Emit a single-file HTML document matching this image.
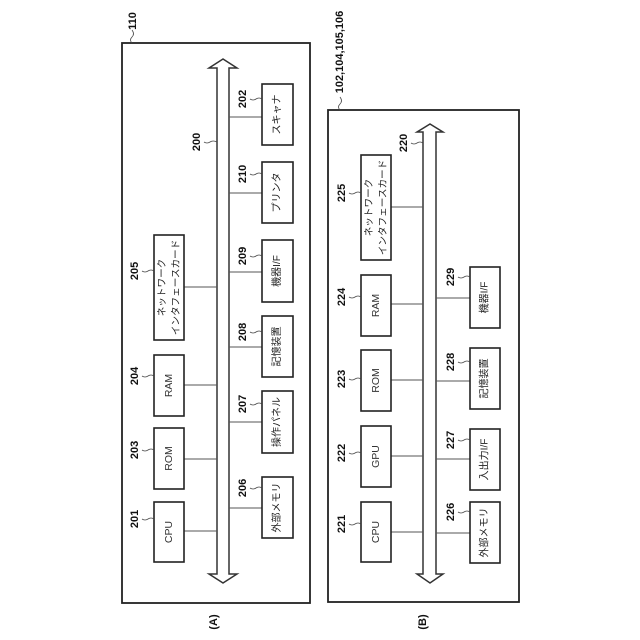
<!DOCTYPE html>
<html><head><meta charset="utf-8"><style>
html,body{margin:0;padding:0;background:#fff}
svg{display:block}
text{font-family:"Liberation Sans","Noto Sans CJK JP",sans-serif;fill:#222;text-anchor:middle;dominant-baseline:central}
.n{font-size:11px;font-weight:bold;fill:#111}
.t{font-size:10.5px;fill:#333}
.j{font-size:10px;fill:#222}
.k{font-size:9.6px;fill:#222}
.b{fill:#fff;stroke:#222;stroke-width:1.6}
.o{fill:#fff;stroke:#222;stroke-width:1.8}
.c{stroke:#555;stroke-width:1.1;fill:none}
.s{stroke:#444;stroke-width:.8;fill:none}
.h{fill:#fff;stroke:#333;stroke-width:1.5}
</style></head><body>
<svg width="640" height="640" viewBox="0 0 640 640" xmlns="http://www.w3.org/2000/svg">
<!-- A -->
<rect class="o" x="122" y="43" width="188" height="560"/>
<path class="h" d="M223 59L237 68H229V574H237L223 583L209 574H217V68H209Z"/>
<path class="c" d="M229 117H262M229 193H262M229 272H262M229 347H262M229 422H262M229 508H262M184 287H217M184 385H217M184 459H217M184 531H217"/>
<rect class="b" x="262" y="84" width="31" height="61"/>
<rect class="b" x="262" y="162" width="31" height="61"/>
<rect class="b" x="262" y="240" width="31" height="62"/>
<rect class="b" x="262" y="316" width="31" height="61"/>
<rect class="b" x="262" y="391" width="31" height="62"/>
<rect class="b" x="262" y="477" width="31" height="61"/>
<rect class="b" x="154" y="235" width="30" height="105"/>
<rect class="b" x="154" y="355" width="30" height="61"/>
<rect class="b" x="154" y="428" width="30" height="61"/>
<rect class="b" x="154" y="502" width="30" height="60"/>
<g class="s">
<path d="M250 99q3 2 6 0t6 0"/><path d="M250 174q3 2 6 0t6 0"/><path d="M250 256q3 2 6 0t6 0"/><path d="M250 332q3 2 6 0t6 0"/><path d="M250 404q3 2 6 0t6 0"/><path d="M250 488q3 2 6 0t6 0"/>
<path d="M142 271q3 2 6 0t6 0"/><path d="M142 376q3 2 6 0t6 0"/><path d="M142 450q3 2 6 0t6 0"/><path d="M142 519q3 2 6 0t6 0"/>
<path d="M204 142q3 2 6 0t7 0"/>
<path d="M132 43q-3 -3 0 -6t0 -7"/>
</g>
<text class="j" transform="translate(277.5 114.5) rotate(-90)">スキャナ</text>
<text class="j" transform="translate(277.5 192.5) rotate(-90)">プリンタ</text>
<text class="j" transform="translate(277.5 271) rotate(-90)">機器I/F</text>
<text class="j" transform="translate(277.5 346.5) rotate(-90)">記憶装置</text>
<text class="j" transform="translate(277.5 422) rotate(-90)">操作パネル</text>
<text class="j" transform="translate(277.5 507.5) rotate(-90)">外部メモリ</text>
<text class="k" transform="translate(162.5 287.5) rotate(-90)">ネットワーク</text>
<text class="k" transform="translate(176.5 287.5) rotate(-90)">インタフェースカード</text>
<text class="t" transform="translate(169 385.5) rotate(-90)">RAM</text>
<text class="t" transform="translate(169 458.5) rotate(-90)">ROM</text>
<text class="t" transform="translate(169 532) rotate(-90)">CPU</text>
<text class="n" transform="translate(243 99) rotate(-90)">202</text>
<text class="n" transform="translate(243 174) rotate(-90)">210</text>
<text class="n" transform="translate(243 256) rotate(-90)">209</text>
<text class="n" transform="translate(243 332) rotate(-90)">208</text>
<text class="n" transform="translate(243 404) rotate(-90)">207</text>
<text class="n" transform="translate(243 488) rotate(-90)">206</text>
<text class="n" transform="translate(135 271) rotate(-90)">205</text>
<text class="n" transform="translate(135 376) rotate(-90)">204</text>
<text class="n" transform="translate(135 450) rotate(-90)">203</text>
<text class="n" transform="translate(135 519) rotate(-90)">201</text>
<text class="n" transform="translate(197 142) rotate(-90)">200</text>
<text class="n" transform="translate(133 21) rotate(-90)">110</text>
<text class="n" transform="translate(214 622) rotate(-90)">(A)</text>
<!-- B -->
<rect class="o" x="328" y="110" width="191" height="492"/>
<path class="h" d="M430 124L443 132H436V574H443L430 583L417 574H423V132H417Z"/>
<path class="c" d="M436 298H470M436 381H470M436 459H470M436 533H470M391 207H423M391 304H423M391 380H423M391 456H423M391 532H423"/>
<rect class="b" x="361" y="155" width="30" height="105"/>
<rect class="b" x="361" y="275" width="30" height="61"/>
<rect class="b" x="361" y="350" width="30" height="61"/>
<rect class="b" x="361" y="426" width="30" height="61"/>
<rect class="b" x="361" y="502" width="30" height="60"/>
<rect class="b" x="470" y="267" width="30" height="61"/>
<rect class="b" x="470" y="348" width="30" height="61"/>
<rect class="b" x="470" y="429" width="30" height="61"/>
<rect class="b" x="470" y="502" width="30" height="61"/>
<g class="s">
<path d="M349 193q3 2 6 0t6 0"/><path d="M349 297q3 2 6 0t6 0"/><path d="M349 379q3 2 6 0t6 0"/><path d="M349 453q3 2 6 0t6 0"/><path d="M349 524q3 2 6 0t6 0"/>
<path d="M458 277q3 2 6 0t6 0"/><path d="M458 362q3 2 6 0t6 0"/><path d="M458 440q3 2 6 0t6 0"/><path d="M458 512q3 2 6 0t6 0"/>
<path d="M411 143q3 2 6 0t6 0"/>
<path d="M340 110q-3 -3 0 -6t0 -7"/>
</g>
<text class="k" transform="translate(369.5 207.5) rotate(-90)">ネットワーク</text>
<text class="k" transform="translate(383.5 207.5) rotate(-90)">インタフェースカード</text>
<text class="t" transform="translate(376 305.5) rotate(-90)">RAM</text>
<text class="t" transform="translate(376 380.5) rotate(-90)">ROM</text>
<text class="t" transform="translate(376 456.5) rotate(-90)">GPU</text>
<text class="t" transform="translate(376 532) rotate(-90)">CPU</text>
<text class="j" transform="translate(485 297.5) rotate(-90)">機器I/F</text>
<text class="j" transform="translate(485 378.5) rotate(-90)">記憶装置</text>
<text class="j" transform="translate(485 459.5) rotate(-90)">入出力I/F</text>
<text class="j" transform="translate(485 532.5) rotate(-90)">外部メモリ</text>
<text class="n" transform="translate(342 193) rotate(-90)">225</text>
<text class="n" transform="translate(342 297) rotate(-90)">224</text>
<text class="n" transform="translate(342 379) rotate(-90)">223</text>
<text class="n" transform="translate(342 453) rotate(-90)">222</text>
<text class="n" transform="translate(342 524) rotate(-90)">221</text>
<text class="n" transform="translate(451 277) rotate(-90)">229</text>
<text class="n" transform="translate(451 362) rotate(-90)">228</text>
<text class="n" transform="translate(451 440) rotate(-90)">227</text>
<text class="n" transform="translate(451 512) rotate(-90)">226</text>
<text class="n" transform="translate(404 143) rotate(-90)">220</text>
<text class="n" transform="translate(340 52) rotate(-90)">102,104,105,106</text>
<text class="n" transform="translate(423 622) rotate(-90)">(B)</text>
</svg>
</body></html>
